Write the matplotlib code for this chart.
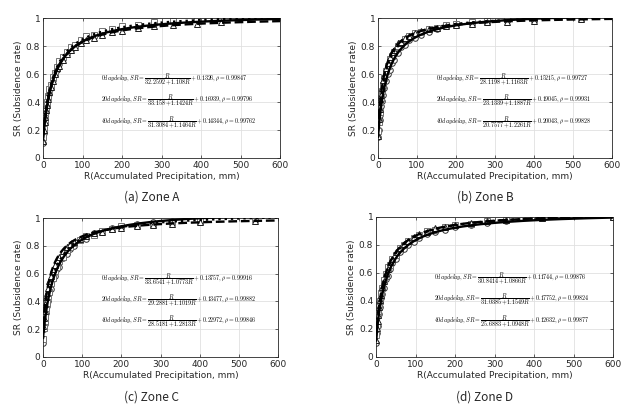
import matplotlib
matplotlib.use('Agg')
import matplotlib.pyplot as plt
import numpy as np

plt.rcParams['mathtext.fontset'] = 'cm'

# Accumulated precipitation of the observed points (shared by the three delays)
r_obs = {
    'A': [0, 2, 4, 6, 8, 10, 13, 16, 20, 25, 30, 35, 40, 50, 60, 70, 80, 95, 110,
          130, 150, 175, 200, 240, 280, 330, 390, 450],
    'B': [0, 2, 4, 6, 8, 10, 13, 16, 20, 25, 30, 35, 40, 50, 60, 70, 80, 95, 110,
          130, 150, 175, 200, 240, 280, 330, 400, 520],
    'C': [0, 2, 4, 6, 8, 10, 13, 16, 20, 25, 30, 35, 40, 50, 60, 70, 80, 95, 110,
          130, 150, 175, 200, 240, 280, 330, 400, 540],
    'D': [0, 2, 4, 6, 8, 10, 13, 16, 20, 25, 30, 35, 40, 50, 60, 70, 80, 95, 110,
          130, 150, 175, 200, 240, 280, 330, 420, 600],
}

# observed subsidence rate, 0 / 20 / 40 day delay
sr_0 = {
    'A': [0.11, 0.18, 0.25, 0.30, 0.33, 0.37, 0.42, 0.46, 0.50, 0.56, 0.60, 0.63, 0.67, 0.71,
          0.75, 0.77, 0.80, 0.83, 0.85, 0.87, 0.89, 0.91, 0.93, 0.95, 0.96, 0.97, 0.99, 1.00],
    'B': [0.15, 0.20, 0.27, 0.31, 0.37, 0.41, 0.45, 0.50, 0.55, 0.60, 0.63, 0.68, 0.70, 0.75,
          0.79, 0.81, 0.84, 0.86, 0.88, 0.90, 0.92, 0.94, 0.95, 0.96, 0.97, 0.98, 0.99, 1.00],
    'C': [0.10, 0.20, 0.24, 0.30, 0.32, 0.37, 0.40, 0.46, 0.49, 0.56, 0.58, 0.63, 0.65, 0.71,
          0.74, 0.78, 0.80, 0.84, 0.85, 0.89, 0.90, 0.93, 0.94, 0.96, 0.97, 0.98, 0.99, 1.00],
    'D': [0.10, 0.17, 0.22, 0.29, 0.31, 0.36, 0.42, 0.45, 0.49, 0.56, 0.58, 0.63, 0.67, 0.70,
          0.75, 0.77, 0.80, 0.82, 0.85, 0.88, 0.89, 0.91, 0.93, 0.94, 0.96, 0.97, 0.99, 1.00],
}
sr_20 = {
    'A': [0.15, 0.21, 0.27, 0.33, 0.35, 0.40, 0.44, 0.49, 0.52, 0.58, 0.61, 0.65, 0.69, 0.72,
          0.76, 0.79, 0.81, 0.84, 0.87, 0.88, 0.91, 0.92, 0.94, 0.95, 0.97, 0.98, 0.99, 1.00],
    'B': [0.19, 0.26, 0.33, 0.40, 0.43, 0.48, 0.52, 0.57, 0.62, 0.66, 0.71, 0.73, 0.76, 0.80,
          0.82, 0.85, 0.87, 0.89, 0.90, 0.92, 0.93, 0.95, 0.96, 0.97, 0.98, 0.99, 0.99, 1.00],
    'C': [0.13, 0.21, 0.26, 0.29, 0.35, 0.39, 0.44, 0.47, 0.53, 0.57, 0.62, 0.65, 0.69, 0.72,
          0.77, 0.79, 0.82, 0.84, 0.87, 0.88, 0.91, 0.92, 0.94, 0.95, 0.96, 0.97, 0.98, 0.99],
    'D': [0.16, 0.23, 0.30, 0.33, 0.38, 0.40, 0.46, 0.49, 0.55, 0.59, 0.64, 0.66, 0.70, 0.73,
          0.78, 0.80, 0.83, 0.85, 0.87, 0.90, 0.91, 0.93, 0.94, 0.95, 0.97, 0.98, 0.99, 1.00],
}
sr_40 = {
    'A': [0.12, 0.20, 0.26, 0.29, 0.34, 0.38, 0.42, 0.47, 0.51, 0.55, 0.60, 0.64, 0.66, 0.70,
          0.74, 0.77, 0.79, 0.82, 0.84, 0.86, 0.88, 0.90, 0.91, 0.93, 0.94, 0.95, 0.96, 0.97],
    'B': [0.16, 0.28, 0.35, 0.42, 0.45, 0.50, 0.56, 0.59, 0.64, 0.68, 0.72, 0.76, 0.77, 0.82,
          0.83, 0.86, 0.87, 0.89, 0.91, 0.92, 0.93, 0.94, 0.95, 0.96, 0.97, 0.97, 0.98, 0.99],
    'C': [0.22, 0.28, 0.33, 0.38, 0.43, 0.46, 0.50, 0.55, 0.58, 0.63, 0.66, 0.70, 0.72, 0.76,
          0.79, 0.81, 0.83, 0.85, 0.87, 0.89, 0.90, 0.92, 0.93, 0.94, 0.95, 0.96, 0.97, 0.98],
    'D': [0.12, 0.21, 0.26, 0.30, 0.36, 0.41, 0.44, 0.50, 0.54, 0.60, 0.63, 0.68, 0.70, 0.75,
          0.78, 0.81, 0.83, 0.86, 0.88, 0.89, 0.92, 0.93, 0.94, 0.96, 0.97, 0.98, 0.99, 1.00],
}

# fitted coefficients SR = R/(a + bR) + c, with correlation rho (0, 20, 40 day delay)
fit_a = {'A': [32.2592, 33.158, 31.3084], 'B': [28.1198, 23.1339, 20.7577],
         'C': [33.6541, 29.2881, 28.5181], 'D': [30.8414, 31.0385, 25.6883]}
fit_b = {'A': [1.108, 1.1424, 1.1464], 'B': [1.1163, 1.1887, 1.2261],
         'C': [1.0773, 1.1019, 1.2813], 'D': [1.0866, 1.1549, 1.0948]}
fit_c = {'A': ['0.1326', '0.16939', '0.14344'], 'B': ['0.15215', '0.19045', '0.20043'],
         'C': ['0.13757', '0.13477', '0.22972'], 'D': ['0.11744', '0.17752', '0.12632']}
fit_rho = {'A': ['0.99847', '0.99796', '0.99762'], 'B': ['0.99727', '0.99931', '0.99828'],
           'C': ['0.99916', '0.99882', '0.99846'], 'D': ['0.99876', '0.99824', '0.99877']}
delays = ['0', '20', '40']

zones = ['A', 'B', 'C', 'D']
captions = ['(a) Zone A', '(b) Zone B', '(c) Zone C', '(d) Zone D']

W, H = 643, 408
# axes boxes in pixels: left, top, right, bottom
boxes = [(43, 18, 280, 158), (378, 18, 612, 158), (43, 218, 278, 357), (376, 217, 613, 357)]
cap_pos = [(152, 197), (485, 197), (152, 397), (485, 397)]

fig = plt.figure(figsize=(W / 100, H / 100), dpi=100)

markers = [('o', '0.2'), ('s', '0.45'), ('^', '0.1')]
lstyles = ['-', ':', '--']

for z, box, cap, cp in zip(zones, boxes, captions, cap_pos):
    l, t, r, b = box
    ax = fig.add_axes([l / W, 1 - b / H, (r - l) / W, (b - t) / H])
    for sr, (m, ec) in zip([sr_0[z], sr_20[z], sr_40[z]], markers):
        ax.plot(r_obs[z], sr, m, mfc='white', mec=ec, ms=4.0, mew=0.7, zorder=2)
    rr = np.linspace(0, 600, 300)
    for i in range(3):
        yy = rr / (fit_a[z][i] + fit_b[z][i] * rr) + float(fit_c[z][i])
        ax.plot(rr, yy, color='black', ls=lstyles[i], lw=1.7, zorder=3)
    ys = [0.555, 0.405, 0.25]
    for i in range(3):
        s = (r'$%s day delay, SR=\dfrac{R}{%s+%sR}+%s, \rho=%s$'
             % (delays[i], fit_a[z][i], fit_b[z][i], fit_c[z][i], fit_rho[z][i]))
        ax.text(148, ys[i], s, fontsize=4.3, va='center', ha='left', zorder=4)
    ax.set_xlim(0, 600)
    ax.set_ylim(0, 1)
    ax.set_xticks([0, 100, 200, 300, 400, 500, 600])
    ax.set_yticks([0, 0.2, 0.4, 0.6, 0.8, 1])
    ax.set_yticklabels(['0', '0.2', '0.4', '0.6', '0.8', '1'])
    ax.grid(True, color='0.88', lw=0.6)
    ax.set_axisbelow(True)
    ax.tick_params(direction='in', length=2.5, width=0.5, labelsize=6.5, pad=2,
                   top=True, right=True, colors='0.15')
    for sp in ax.spines.values():
        sp.set_linewidth(0.6)
        sp.set_color('0.15')
    ax.set_xlabel('R(Accumulated Precipitation, mm)', fontsize=6.5, labelpad=1.5, color='0.15')
    ax.set_ylabel('SR (Subsidence rate)', fontsize=6.5, labelpad=2, color='0.15')
    fig.text(cp[0] / W, 1 - cp[1] / H, cap, fontsize=8.5, ha='center', va='center',
             family=['Noto Sans CJK KR', 'DejaVu Sans'], color='0.15')

fig.savefig('out.png', dpi=100)
